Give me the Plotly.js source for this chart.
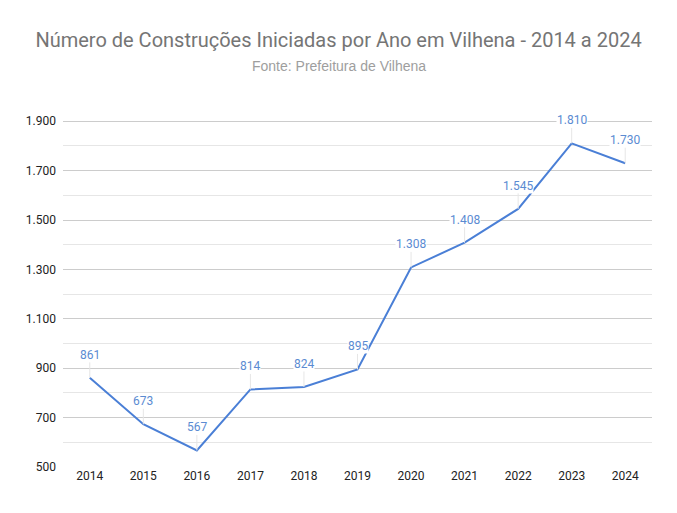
<!DOCTYPE html>
<html>
<head>
<meta charset="utf-8">
<script src="https://cdn.plot.ly/plotly-3.0.1.min.js"></script>
<style>html,body{margin:0;padding:0;background:#fff;}#chart{width:677px;height:513px;}</style>
</head>
<body>
<div id="chart"></div>
<script>
var years = ["2014","2015","2016","2017","2018","2019","2020","2021","2022","2023","2024"];
var values = [861, 673, 567, 814, 824, 895, 1308, 1408, 1545, 1810, 1730];
var yTicks = [500, 700, 900, 1100, 1300, 1500, 1700, 1900];

function fmt(n) {
  return String(n).replace(/\B(?=(\d{3})+(?!\d))/g, ".");
}

var lineColor = "#4a7fd6";
var labelColor = "#5b8bd2";

var annotations = years.map(function (yr, i) {
  return {
    x: i, y: values[i], xref: "x", yref: "y",
    text: fmt(values[i]),
    showarrow: true, arrowhead: 0, arrowwidth: 1, arrowcolor: "#e6e6e6",
    ax: 0, ay: -23, standoff: 0,
    bgcolor: "#ffffff", borderpad: 0,
    font: {family: "Roboto, Arial, sans-serif", size: 12, color: labelColor}
  };
});
annotations.push({
  xref: "paper", yref: "paper", x: (338.5 - 63) / 589, y: (467 - 65.5) / 371, xanchor: "center", yanchor: "middle",
  showarrow: false, text: "Fonte: Prefeitura de Vilhena",
  font: {family: "Liberation Sans, Arial, sans-serif", size: 14, color: "#9e9e9e"}
});

var trace = {
  x: years, y: values, type: "scatter", mode: "lines",
  line: {color: lineColor, width: 2},
  hoverinfo: "skip"
};

var layout = {
  width: 677, height: 513,
  margin: {l: 63, r: 25, t: 96, b: 46},
  paper_bgcolor: "#ffffff", plot_bgcolor: "#ffffff",
  separators: ",.",
  showlegend: false,
  font: {family: "Roboto, Arial, sans-serif", size: 12, color: "#222222"},
  title: {
    text: "Número de Construções Iniciadas por Ano em Vilhena - 2014 a 2024",
    font: {family: "Roboto, Arial, sans-serif", size: 20, color: "#757575"},
    x: 0.5, xanchor: "center", xref: "container",
    y: 1 - 40 / 513, yanchor: "middle", yref: "container"
  },
  xaxis: {
    type: "category", range: [-0.5, 10.5],
    showgrid: false, zeroline: false, showline: false,
    ticks: "", tickfont: {size: 12, color: "#222222"}
  },
  yaxis: {
    range: [500, 2002],
    tickmode: "array", tickvals: yTicks, ticktext: yTicks.map(fmt),
    showgrid: true, gridcolor: "#cccccc", gridwidth: 1,
    minor: {dtick: 100, tick0: 0, showgrid: true, gridcolor: "#e6e6e6", gridwidth: 1, ticks: ""},
    zeroline: false, showline: false, ticks: "",
    ticklabelstandoff: 6,
    tickfont: {size: 12, color: "#222222"}
  },
  annotations: annotations
};

Plotly.newPlot("chart", [trace], layout, {displayModeBar: false, staticPlot: true});
</script>
</body>
</html>
